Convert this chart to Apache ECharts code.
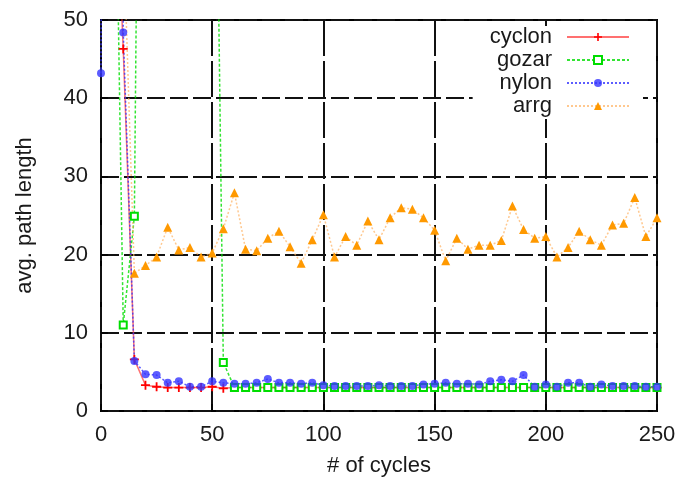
<!DOCTYPE html>
<html>
<head>
<meta charset="utf-8">
<title>avg. path length</title>
<script src="https://cdn.jsdelivr.net/npm/echarts@6.0.0/dist/echarts.min.js"></script>
<style>
    html, body { margin: 0; padding: 0; background: #fff; }
    #main { width: 681px; height: 482px; }
</style>
</head>
<body>
<div id="main"></div>
<script>
// cycles 0..250, one sample every 5 cycles
var cycles = [0, 5, 10, 15, 20, 25, 30, 35, 40, 45, 50, 55, 60, 65, 70, 75, 80, 85, 90, 95,
    100, 105, 110, 115, 120, 125, 130, 135, 140, 145, 150, 155, 160, 165, 170, 175, 180, 185, 190, 195,
    200, 205, 210, 215, 220, 225, 230, 235, 240, 245, 250];

// values above 50 leave the plot (only the steep edges show)
var cyclon = [95, 80, 46.3, 6.6, 3.3, 3.1, 3.0, 3.0, 3.0, 3.0, 3.1, 2.9, 3.0, 3.0, 3.0, 3.0, 3.0, 3.0, 3.0, 3.0,
    3.0, 3.0, 3.0, 3.0, 3.0, 3.0, 3.0, 3.0, 3.0, 3.0, 3.0, 3.0, 3.0, 3.0, 3.0, 3.0, 3.0, 3.0, 3.0, 3.0,
    3.0, 3.0, 3.0, 3.0, 3.0, 3.0, 3.0, 3.0, 3.0, 3.0, 3.0];
var gozar = [120, 100, 11.0, 24.9, 180, 170, 160, 150, 140, 130, 115, 6.2, 3.0, 3.0, 3.0, 3.0, 3.0, 3.0, 3.0, 3.0,
    3.0, 3.0, 3.0, 3.0, 3.0, 3.0, 3.0, 3.0, 3.0, 3.0, 3.0, 3.0, 3.0, 3.0, 3.0, 3.0, 3.0, 3.0, 3.0, 3.0,
    3.0, 3.0, 3.0, 3.0, 3.0, 3.0, 3.0, 3.0, 3.0, 3.0, 3.0];
var nylon = [43.2, 400, 48.4, 6.4, 4.7, 4.6, 3.6, 3.8, 3.1, 3.1, 3.8, 3.6, 3.5, 3.5, 3.6, 4.1, 3.6, 3.6, 3.5, 3.6,
    3.3, 3.2, 3.2, 3.2, 3.2, 3.3, 3.2, 3.2, 3.2, 3.4, 3.5, 3.6, 3.5, 3.5, 3.4, 3.8, 4.0, 3.8, 4.6, 3.1,
    3.4, 3.1, 3.6, 3.6, 3.1, 3.4, 3.2, 3.2, 3.2, 3.1, 3.1];
var arrg = [110, 90, 62, 17.6, 18.6, 19.7, 23.5, 20.6, 20.9, 19.7, 20.2, 23.3, 27.9, 20.7, 20.5, 22.1, 23.0, 21.0, 18.9, 21.9,
    25.1, 19.7, 22.3, 21.2, 24.3, 21.9, 24.7, 26.0, 25.8, 24.7, 23.1, 19.2, 22.1, 20.7, 21.2, 21.2, 21.8, 26.2, 23.2, 22.1,
    22.3, 19.7, 20.9, 23.0, 21.9, 21.2, 23.8, 24.0, 27.3, 22.3, 24.7];

var xTicks = [0, 50, 100, 150, 200, 250];
var yTicks = [0, 10, 20, 30, 40, 50];

function pairs(vals) {
    return cycles.map(function (c, i) { return [c, vals[i]]; });
}

var font = '"Liberation Sans", Arial, Helvetica, sans-serif';
var plusPath = 'path://M4,0H6V4H10V6H6V10H4V6H0V4H4Z';

var chart = echarts.init(document.getElementById('main'), null, {renderer: 'canvas'});

var option = {
    animation: false,
    backgroundColor: '#fff',
    textStyle: {fontFamily: font},
    grid: {
        left: 101, right: 24, top: 20, bottom: 71,
        show: true, borderColor: '#000', borderWidth: 2, backgroundColor: 'transparent'
    },
    legend: {
        orient: 'vertical',
        right: 38, top: 26,
        align: 'right',
        itemWidth: 62, itemHeight: 10, itemGap: 1,
        padding: [0, 13, 2, 17],
        backgroundColor: '#fff',
        textStyle: {fontSize: 22, color: '#1a1a1a', fontFamily: font, padding: [0, 10, 0, 0]},
        data: ['cyclon', 'gozar', 'nylon', 'arrg']
    },
    xAxis: {
        type: 'value',
        min: xTicks[0], max: xTicks[xTicks.length - 1], interval: 50,
        name: '# of cycles', nameLocation: 'middle', nameGap: 44,
        nameTextStyle: {fontSize: 22, color: '#1a1a1a', fontFamily: font},
        axisLine: {show: false},
        axisTick: {show: true, inside: true, length: 7, lineStyle: {color: '#000', width: 1.5}},
        axisLabel: {fontSize: 22, color: '#1a1a1a', margin: 13, fontFamily: font},
        splitLine: {show: true, lineStyle: {color: '#111', width: 2, type: [36, 5]}}
    },
    yAxis: {
        type: 'value',
        min: yTicks[0], max: yTicks[yTicks.length - 1], interval: 10,
        name: 'avg. path length', nameLocation: 'middle', nameGap: 65, nameRotate: 90,
        nameTextStyle: {fontSize: 22, color: '#1a1a1a', fontFamily: font},
        axisLine: {show: false},
        axisTick: {show: true, inside: true, length: 7, lineStyle: {color: '#000', width: 1.5}},
        axisLabel: {fontSize: 22, color: '#1a1a1a', margin: 13, fontFamily: font},
        splitLine: {show: true, lineStyle: {color: '#111', width: 2, type: [18, 5]}}
    },
    series: [
        {
            name: 'cyclon', type: 'line', data: pairs(cyclon),
            symbol: plusPath, symbolSize: 9,
            itemStyle: {color: '#ff0000'},
            lineStyle: {color: '#ff3333', width: 1.5, opacity: 0.7, type: 'solid'}
        },
        {
            name: 'gozar', type: 'line', data: pairs(gozar),
            symbol: 'emptyRect', symbolSize: 7,
            itemStyle: {color: '#00dd00', borderColor: '#00dd00', borderWidth: 1.5},
            lineStyle: {color: '#00dd00', width: 1.5, opacity: 0.8, type: [3, 2]}
        },
        {
            name: 'nylon', type: 'line', data: pairs(nylon),
            symbol: 'circle', symbolSize: 8,
            itemStyle: {color: '#3333ff', opacity: 0.8},
            lineStyle: {color: '#3333ff', width: 1.5, opacity: 0.8, type: [2, 2]}
        },
        {
            name: 'arrg', type: 'line', data: pairs(arrg),
            symbol: 'triangle', symbolSize: 9,
            itemStyle: {color: '#ff9900'},
            lineStyle: {color: '#ffb060', width: 1.5, opacity: 0.7, type: [2, 2]}
        }
    ]
};

chart.setOption(option);
</script>
</body>
</html>
